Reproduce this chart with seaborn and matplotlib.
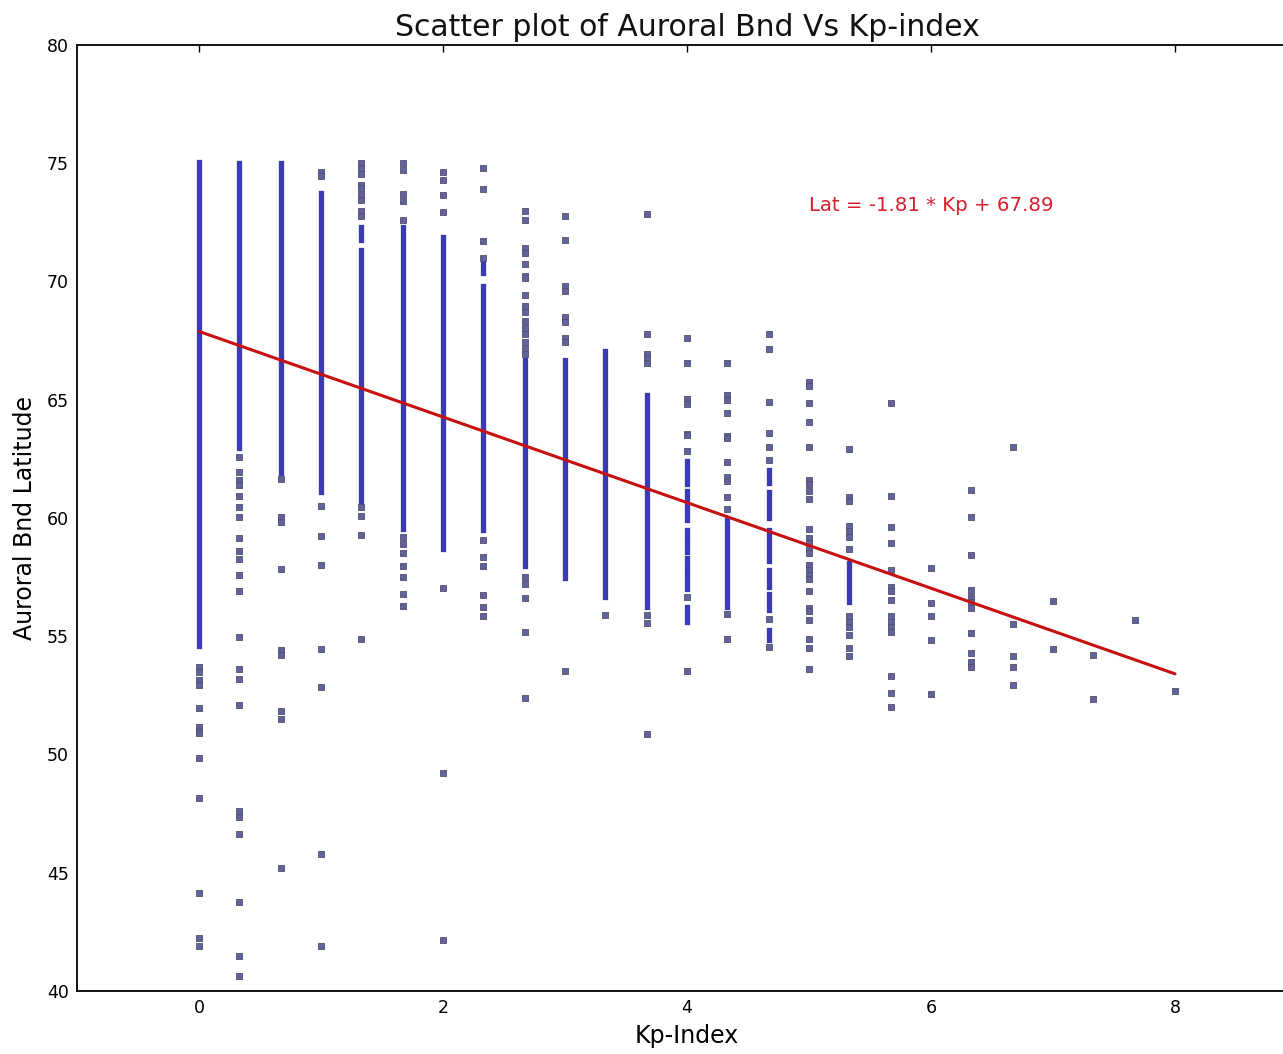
import matplotlib
matplotlib.use("Agg")
import matplotlib.pyplot as plt
import seaborn as sns
import pandas as pd

# Kp-index levels (thirds of a unit)
kp_levels = [0.0, 0.33, 0.67, 1.0, 1.33, 1.67, 2.0, 2.33, 2.67, 3.0, 3.33, 3.67,
             4.0, 4.33, 4.67, 5.0, 5.33, 5.67, 6.0, 6.33, 6.67, 7.0, 7.33, 7.67, 8.0]

# Densely populated latitude stretches: (Kp, lowest lat, highest lat)
band_kp = [0.0, 0.33, 0.67, 1.0, 1.33, 1.33, 1.67, 2.0, 2.33, 2.33, 2.67, 3.0,
           3.33, 3.33, 3.67, 4.0, 4.0, 4.0, 4.0, 4.0, 4.0, 4.0, 4.0,
           4.33, 4.67, 4.67, 4.67, 4.67, 4.67, 4.67, 5.33]
band_low = [54.6, 62.95, 61.9, 61.1, 71.75, 60.65, 59.55, 58.7, 70.35, 59.5, 57.95, 57.45,
            65.0, 56.65, 56.25, 61.45, 60.45, 59.9, 59.3, 58.55, 57.7, 57.0, 55.6,
            56.25, 61.5, 60.0, 58.2, 57.1, 56.1, 54.85, 56.45]
band_high = [75.05, 75.0, 75.0, 73.75, 72.3, 71.35, 72.3, 71.9, 70.8, 69.8, 66.7, 66.7,
             67.05, 64.8, 65.2, 62.4, 61.15, 60.3, 59.5, 59.1, 58.3, 57.5, 56.25,
             59.9, 62.05, 61.1, 59.5, 57.8, 56.8, 55.25, 58.1]

# Individual observations per Kp level (auroral boundary latitude, deg)
point_lat = [
    [53.7, 53.5, 53.15, 52.95, 51.95, 51.15, 51.0, 50.9, 49.85, 48.15, 44.15, 42.25, 41.9],
    [62.6, 61.95, 61.6, 61.4, 60.95, 60.45, 60.05, 59.15, 58.6, 58.25, 57.6, 56.9, 54.95,
     53.6, 53.2, 52.1, 47.6, 47.35, 46.65, 43.75, 41.5, 40.65],
    [61.65, 60.05, 59.85, 57.85, 54.4, 54.2, 51.85, 51.5, 45.2],
    [74.65, 74.45, 60.5, 59.25, 58.0, 54.45, 52.85, 45.8, 41.9],
    [75.0, 74.8, 74.55, 74.1, 73.95, 73.65, 73.45, 73.0, 72.75, 60.45, 60.1, 59.3, 54.9],
    [75.0, 74.7, 73.7, 73.4, 72.6, 59.2, 58.9, 58.5, 57.95, 57.5, 56.8, 56.3],
    [74.65, 74.3, 73.65, 72.95, 57.05, 49.2, 42.15],
    [74.8, 73.9, 71.7, 71.0, 59.05, 58.35, 57.95, 56.75, 56.25, 55.85],
    [73.0, 72.6, 71.4, 71.2, 70.75, 70.25, 70.15, 69.45, 68.95, 68.7, 68.35, 68.05, 67.8,
     67.45, 67.15, 66.95, 57.5, 57.2, 56.6, 55.2, 52.4],
    [72.75, 71.75, 69.8, 69.6, 68.5, 68.3, 67.6, 67.45, 53.55],
    [55.9],
    [72.85, 67.8, 66.95, 66.75, 66.55, 55.9, 55.55, 50.85],
    [67.6, 66.55, 65.05, 64.8, 63.55, 63.5, 62.85, 56.65, 53.55],
    [66.55, 65.2, 65.0, 64.45, 63.45, 63.4, 62.35, 61.75, 61.55, 60.9, 60.4, 55.95, 54.9],
    [67.8, 67.15, 64.9, 63.6, 63.0, 62.45, 55.75, 54.55],
    [65.75, 65.6, 64.85, 64.05, 63.0, 61.6, 61.45, 61.15, 60.8, 59.55, 59.15, 58.95, 58.75,
     58.5, 58.0, 57.8, 57.6, 57.4, 56.9, 56.2, 56.05, 55.7, 54.9, 54.5, 53.6],
    [62.9, 60.9, 60.7, 59.65, 59.45, 59.2, 58.7, 55.85, 55.6, 55.4, 55.05, 54.5, 54.15],
    [64.85, 60.95, 59.6, 58.95, 57.8, 57.1, 56.9, 56.55, 55.85, 55.6, 55.4, 55.2, 53.3,
     52.6, 52.0],
    [57.9, 56.4, 55.85, 54.85, 52.55],
    [61.2, 60.05, 58.45, 56.95, 56.65, 56.45, 56.2, 55.15, 54.3, 53.9, 53.7],
    [63.0, 55.5, 54.15, 53.7, 52.95],
    [56.5, 54.45],
    [54.2, 52.35],
    [55.7],
    [52.7],
]

# Least-squares fit quoted on the chart
fit_slope = -1.81
fit_intercept = 67.89
fit_kp_range = [0.0, 8.0]

points = pd.DataFrame(
    [(kp, lat) for kp, lats in zip(kp_levels, point_lat) for lat in lats],
    columns=["Kp", "Lat"],
)
fit = pd.DataFrame({"Kp": fit_kp_range,
                    "Lat": [fit_slope * k + fit_intercept for k in fit_kp_range]})

sns.set_style("white")
plt.rcParams["font.family"] = ["DejaVu Sans"]
plt.rcParams["text.color"] = "black"
plt.rcParams["axes.labelcolor"] = "black"

W, H, DPI = 1283, 1054, 100
fig = plt.figure(figsize=(W / DPI, H / DPI), dpi=DPI)
ax = fig.add_axes([77 / W, 63 / H, 1220 / W, 946 / H])

# dense runs of overlapping square markers
bands = ax.vlines(band_kp, band_low, band_high, colors="#3a3ab2", linewidth=3.8, zorder=2)
bands.set_capstyle("projecting")

sns.scatterplot(data=points, x="Kp", y="Lat", marker="s", s=13, color="#62629c",
                edgecolor="#50506e", linewidth=0.6, ax=ax, zorder=3, legend=False)

sns.lineplot(data=fit, x="Kp", y="Lat", color="#c81010", linewidth=2.2, ax=ax, zorder=4)

ax.text(5, 73, f"Lat = {fit_slope:.2f} * Kp + {fit_intercept:.2f}", color="#d8202e",
        fontsize=14.2)

ax.set_xlim(-1, 9)
ax.set_ylim(40, 80)
ax.set_xticks([0, 2, 4, 6, 8])
ax.set_yticks([40, 45, 50, 55, 60, 65, 70, 75, 80])
ax.tick_params(direction="in", top=True, right=True, length=5, width=1,
               labelsize=12.5, pad=6, colors="black")
for sp in ax.spines.values():
    sp.set_color("black")
    sp.set_linewidth(1.3)

ax.set_xlabel("Kp-Index", fontsize=17, labelpad=5)
ax.set_ylabel("Auroral Bnd Latitude", fontsize=17, labelpad=7)
ax.set_title("Scatter plot of Auroral Bnd Vs Kp-index", fontsize=21.5, pad=6.5,
             color="#111111")

fig.savefig("out.png", dpi=DPI, facecolor="white")
